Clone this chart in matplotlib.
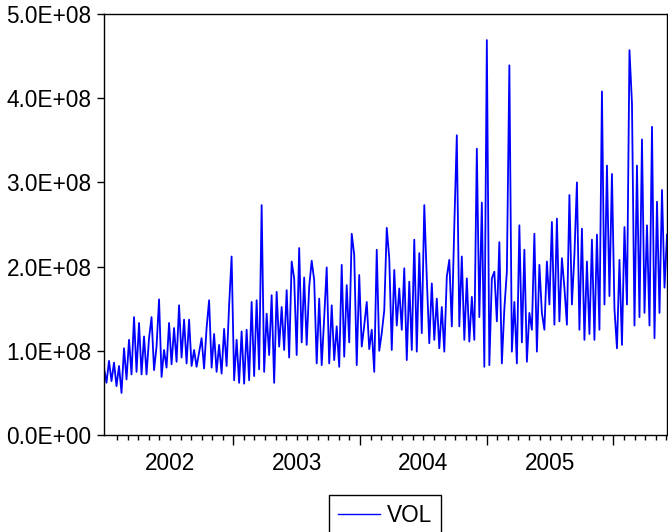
# -*- coding: utf-8 -*-
"""
Daily trading volume (VOL) line chart, EViews style
"""

# Import libraries
import numpy as np
import matplotlib
matplotlib.use('Agg')
import matplotlib.pyplot as plt
from matplotlib.ticker import FuncFormatter


#-----------------------------------------------------------------------------
# Data (units of 1e8 shares)
#-----------------------------------------------------------------------------

vol_2002 = [0.80, 0.62, 0.88, 0.64, 0.86, 0.58, 0.82, 0.50,
            1.03, 0.66, 1.13, 0.72, 1.40, 0.75, 1.33, 0.72,
            1.17, 0.72, 1.15, 1.40, 0.77, 1.05, 1.61, 0.69,
            1.01, 0.80, 1.33, 0.84, 1.27, 0.87, 1.54, 0.92,
            1.37, 0.85, 1.37, 0.82, 1.01, 0.81, 0.98, 1.15,
            0.79, 1.27, 1.60, 0.80, 1.20, 0.75, 1.07, 0.73,
            1.26, 0.82, 1.54, 2.12]

vol_2003 = [0.65, 1.13, 0.62, 1.23, 0.61, 1.25, 0.65, 1.58,
            0.70, 1.60, 0.78, 2.73, 0.75, 1.44, 0.95, 1.66,
            0.62, 1.70, 1.05, 1.52, 1.01, 1.72, 0.92, 2.06,
            1.86, 0.95, 2.22, 1.10, 1.87, 1.07, 1.76, 2.07,
            1.84, 0.85, 1.62, 0.83, 1.39, 1.99, 0.85, 1.54,
            0.89, 1.29, 0.81, 2.02, 0.93, 1.78, 1.10, 2.39,
            2.14, 0.83, 1.90, 1.05]

vol_2004 = [1.30, 1.58, 1.02, 1.25, 0.75, 2.20, 1.00, 1.21,
            1.48, 2.46, 2.10, 1.01, 1.96, 1.30, 1.74, 1.25,
            1.98, 0.89, 1.82, 1.01, 2.32, 0.99, 2.16, 1.21,
            2.73, 1.86, 1.09, 1.80, 1.13, 1.62, 1.03, 1.52,
            0.99, 1.88, 2.08, 1.29, 2.49, 3.56, 1.29, 2.12,
            1.13, 1.86, 1.11, 1.64, 1.13, 3.40, 1.40, 2.76]

vol_2005 = [0.81, 4.69, 0.83, 1.86, 1.94, 1.35, 2.29, 0.85,
            1.50, 1.94, 4.39, 0.99, 1.58, 0.85, 2.49, 1.10,
            2.20, 0.87, 1.45, 1.25, 2.39, 0.99, 2.02, 1.45,
            1.25, 2.06, 1.55, 2.53, 1.31, 2.57, 1.35, 2.10,
            1.75, 1.31, 2.85, 1.55, 2.14, 3.00, 1.25, 2.45,
            1.13, 2.06, 1.20, 2.32, 1.13, 2.38, 1.25, 4.08,
            1.55, 3.20, 1.65, 3.10]

vol_tail = [1.50, 1.03, 2.08, 1.07, 2.47, 1.55, 4.57, 3.94,
            1.30, 3.20, 1.40, 3.51, 1.45, 2.49, 1.30, 3.66,
            1.15, 2.77, 1.45, 2.91, 1.75, 2.38]

years = ['2002', '2003', '2004', '2005']
y_ticks = [0, 1e8, 2e8, 3e8, 4e8, 5e8]

# Join the pieces and scale to shares
VOL = np.array(vol_2002 + vol_2003 + vol_2004 + vol_2005 + vol_tail) * 1e8

# Time axis in months counted from the start of 2002
t = np.linspace(-0.25, 53.07, len(VOL))


#-----------------------------------------------------------------------------
# Plot the graphic
#-----------------------------------------------------------------------------

plt.rcParams['font.family'] = 'Liberation Sans'
plt.rcParams['font.size'] = 16.3

fig = plt.figure(figsize=(6.68, 5.32), dpi=100)
ax = fig.add_axes([104/668, 97/532, 563/668, 421/532])

ax.plot(t, VOL, color=(0, 0, 1), linewidth=1.3, label='VOL')

ax.set_xlim(t[0], t[-1])
ax.set_ylim(0, 5e8)

# Y axis
ax.set_yticks(y_ticks)
ax.yaxis.set_major_formatter(FuncFormatter(lambda v, p: f'{v:.1E}'))
ax.tick_params(axis='y', direction='out', length=5, width=1, pad=4)

# X axis: long ticks at year change, short ticks every month
ax.set_xticks([12, 24, 36, 48])
ax.set_xticks(np.arange(1, 54), minor=True)
ax.tick_params(axis='x', which='major', direction='out', length=7, width=1,
               labelbottom=False)
ax.tick_params(axis='x', which='minor', direction='out', length=3.5, width=1)

# Year labels in the middle of each year
for i, yr in enumerate(years):
    ax.text(6 + 12*i, -0.040, yr, transform=ax.get_xaxis_transform(),
            ha='center', va='top')

for sp in ax.spines.values():
    sp.set_linewidth(1)
    sp.set_color('black')

# Legend under the chart
leg = fig.legend(loc='upper center', bbox_to_anchor=(0.576, 1 - 495/532),
                 frameon=True, fancybox=False, edgecolor='black',
                 framealpha=1, handlelength=1.86, handletextpad=0.3,
                 borderpad=0.4, borderaxespad=0)
leg.get_frame().set_linewidth(1)
for line in leg.get_lines():
    line.set_linewidth(1)

plt.savefig('out.png', dpi=100)
